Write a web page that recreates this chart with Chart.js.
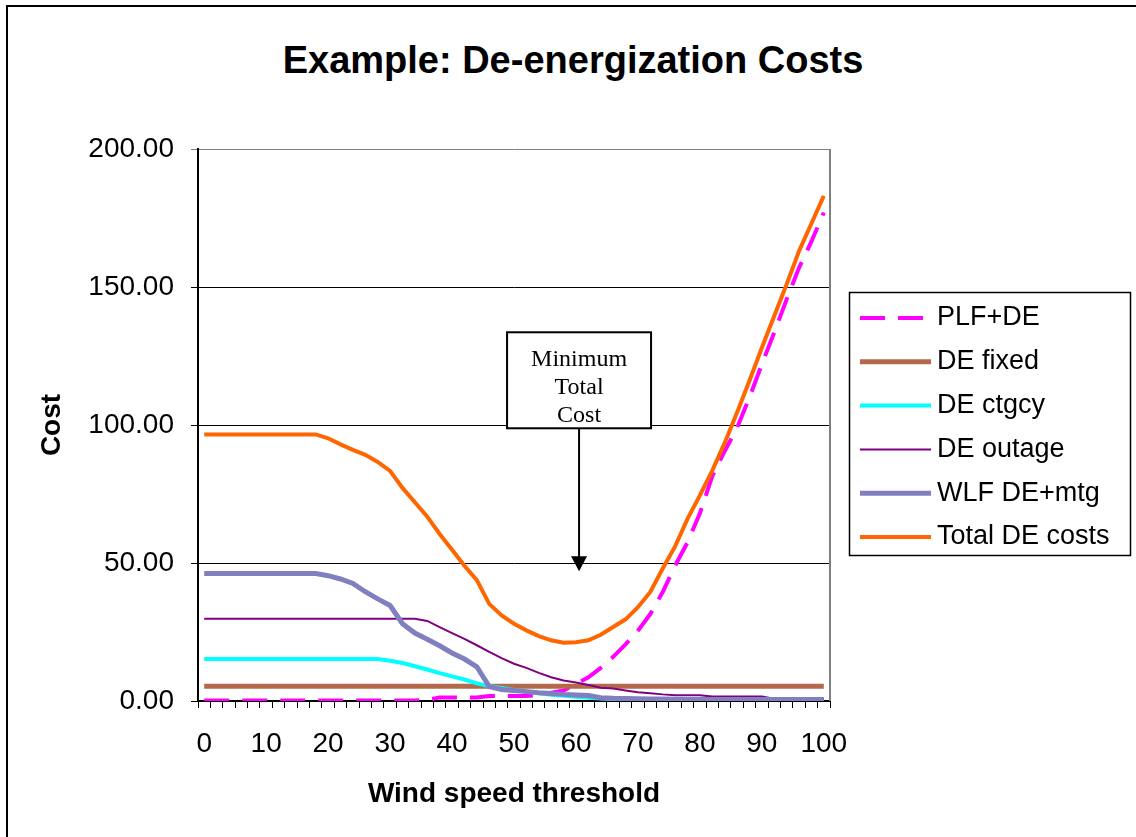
<!DOCTYPE html>
<html>
<head>
<meta charset="utf-8">
<title>Example: De-energization Costs</title>
<script src="https://cdn.jsdelivr.net/npm/chart.js@4/dist/chart.umd.min.js"></script>
<style>
  body { margin: 0; background: #fff; }
  #wrap { position: relative; width: 1136px; height: 837px; overflow: hidden; }
  #edge { position: absolute; left: 6px; top: 5px; width: 2000px; height: 2000px;
          border-left: 2px solid #000; border-top: 2px solid #000; }
  #title { position: absolute; left: 0; top: 37px; width: 1146px; text-align: center;
           font: bold 38px/46px "Liberation Sans", Arial, sans-serif; color: #000; }
  canvas { position: absolute; left: 0; top: 0; }
</style>
</head>
<body>
<div id="wrap">
  <div id="edge"></div>
  <div id="title">Example: De-energization Costs</div>
  <canvas id="costChart" width="1136" height="837"></canvas>
</div>
<script>
// Wind speed threshold categories
const windSpeeds = [0, 2, 4, 6, 8, 10, 12, 14, 16, 18, 20, 22, 24, 26, 28, 30, 32, 34, 36, 38,
  40, 42, 44, 46, 48, 50, 52, 54, 56, 58, 60, 62, 64, 66, 68, 70, 72, 74, 76, 78,
  80, 82, 84, 86, 88, 90, 92, 94, 96, 98, 100];

// Cost series
const plfDe = [0.2, 0.2, 0.2, 0.2, 0.2, 0.2, 0.2, 0.2, 0.2, 0.2, 0.2, 0.2, 0.2, 0.2, 0.2, 0.2, 0.2, 0.2, 0.4, 1.3,
  1.3, 1.3, 1.3, 1.8, 1.8, 1.8, 1.8, 2.2, 3.0, 3.8, 6.2, 8.6, 12.0, 16.0, 20.5, 25.5, 31.5, 39.5, 49.0, 57.5,
  68.0, 81.5, 90.5, 99.0, 110.0, 122.0, 133.5, 145.5, 157.0, 166.5, 177.0];

const deFixed = [5.3, 5.3, 5.3, 5.3, 5.3, 5.3, 5.3, 5.3, 5.3, 5.3, 5.3, 5.3, 5.3, 5.3, 5.3, 5.3, 5.3, 5.3, 5.3, 5.3,
  5.3, 5.3, 5.3, 5.3, 5.3, 5.3, 5.3, 5.3, 5.3, 5.3, 5.3, 5.3, 5.3, 5.3, 5.3, 5.3, 5.3, 5.3, 5.3, 5.3,
  5.3, 5.3, 5.3, 5.3, 5.3, 5.3, 5.3, 5.3, 5.3, 5.3, 5.3];

const deCtgcy = [15.2, 15.2, 15.2, 15.2, 15.2, 15.2, 15.2, 15.2, 15.2, 15.2, 15.2, 15.2, 15.2, 15.2, 15.2, 14.6, 13.8, 12.6, 11.4, 10.1,
  8.9, 7.8, 6.4, 5.4, 4.7, 4.0, 3.4, 2.8, 2.3, 1.9, 1.5, 1.2, 0.9, 0.7, 0.5, 0.3, 0.2, 0.1, 0.1, 0.1,
  0.1, 0.1, 0.1, 0.1, 0.1, 0.1, 0.1, 0.1, 0.1, 0.1, 0.1];

const deOutage = [29.8, 29.8, 29.8, 29.8, 29.8, 29.8, 29.8, 29.8, 29.8, 29.8, 29.8, 29.8, 29.8, 29.8, 29.8, 29.8, 29.8, 29.8, 29.0, 26.8,
  24.6, 22.5, 20.2, 17.8, 15.5, 13.5, 12.0, 10.2, 8.6, 7.4, 6.7, 5.8, 4.8, 4.5, 3.8, 3.2, 2.8, 2.4, 2.1, 2.1,
  2.1, 1.6, 1.6, 1.6, 1.6, 1.6, 0.8, 0.8, 0.8, 0.8, 0.8];

const wlfDeMtg = [46.2, 46.2, 46.2, 46.2, 46.2, 46.2, 46.2, 46.2, 46.2, 46.2, 45.4, 44.2, 42.6, 39.6, 37.0, 34.6, 28.0, 24.6, 22.4, 20.0,
  17.4, 15.2, 12.4, 5.2, 4.2, 3.8, 3.4, 3.0, 2.7, 2.4, 2.2, 2.0, 1.2, 1.0, 0.9, 0.8, 0.7, 0.7, 0.6, 0.5,
  0.5, 0.5, 0.5, 0.5, 0.5, 0.5, 0.5, 0.5, 0.5, 0.5, 0.5];

const totalDe = [96.6, 96.6, 96.6, 96.6, 96.6, 96.6, 96.6, 96.6, 96.6, 96.6, 95.2, 93.0, 91.0, 89.2, 86.6, 83.4, 77.2, 72.0, 66.8, 60.5,
  54.8, 49.0, 43.8, 35.2, 31.0, 28.0, 25.6, 23.5, 22.0, 21.1, 21.3, 22.0, 24.0, 26.8, 29.6, 34.0, 39.5, 48.0, 56.0, 66.0,
  74.5, 83.5, 93.5, 104.5, 116.0, 128.0, 139.5, 151.0, 163.0, 173.0, 183.0];

// Axis settings
const yMax = 200;
const yStep = 50;
const xLabelEvery = 10;

// Callout: arrow tip at category index / cost value
const noteLines = ["Minimum", "Total", "Cost"];
const noteIndex = 30.25;
const noteValue = 47;

const FONT = "'Liberation Sans', Arial, sans-serif";
Chart.defaults.font.family = FONT;
Chart.defaults.color = '#000';

// Draws the plot frame, the callout and the boxed legend
const extras = {
    id: 'extras',
    afterDraw(chart) {
        const { ctx, chartArea: a, scales: { x, y } } = chart;
        ctx.save();

        // right edge of plot area
        ctx.strokeStyle = '#808080';
        ctx.lineWidth = 2;
        ctx.beginPath();
        ctx.moveTo(a.right, a.top);
        ctx.lineTo(a.right, a.bottom);
        ctx.stroke();

        // callout box + arrow
        const tipX = x.getPixelForValue(noteIndex);
        const tipY = y.getPixelForValue(noteValue);
        const bl = tipX - 72, bt = tipY - 239, bw = 144, bh = 96;
        ctx.fillStyle = '#fff';
        ctx.fillRect(bl, bt, bw, bh);
        ctx.save();
        ctx.beginPath();
        ctx.rect(bl, bt, bw, bh);
        ctx.clip();
        ctx.fillStyle = '#000';
        ctx.font = "24px 'Liberation Serif', 'Times New Roman', serif";
        ctx.textAlign = 'center';
        ctx.textBaseline = 'alphabetic';
        noteLines.forEach((t, i) => ctx.fillText(t, tipX, bt + 34 + i * 28));
        ctx.restore();
        ctx.strokeStyle = '#000';
        ctx.lineWidth = 2;
        ctx.strokeRect(bl, bt, bw, bh);
        ctx.beginPath();
        ctx.moveTo(tipX, bt + bh);
        ctx.lineTo(tipX, tipY - 12);
        ctx.stroke();
        ctx.fillStyle = '#000';
        ctx.beginPath();
        ctx.moveTo(tipX - 8, tipY - 15);
        ctx.lineTo(tipX + 8, tipY - 15);
        ctx.lineTo(tipX, tipY);
        ctx.closePath();
        ctx.fill();

        // legend
        const lx = a.right + 20, ly = 292.5;
        ctx.lineWidth = 1.5;
        ctx.strokeStyle = '#000';
        ctx.strokeRect(lx - 0.5, ly, 281, 263);
        ctx.font = '27px ' + FONT;
        ctx.textAlign = 'left';
        ctx.textBaseline = 'middle';
        chart.data.datasets.forEach((ds, i) => {
            const ry = ly + 25.5 + i * 43.8;
            ctx.strokeStyle = ds.borderColor;
            ctx.lineWidth = ds.borderWidth;
            ctx.setLineDash(ds.borderDash || []);
            ctx.beginPath();
            ctx.moveTo(lx + 10, ry);
            ctx.lineTo(lx + 81, ry);
            ctx.stroke();
            ctx.setLineDash([]);
            ctx.fillStyle = '#000';
            ctx.fillText(ds.label, lx + 87, ry);
        });
        ctx.restore();
    }
};

function initializeChart() {
    const ctx = document.getElementById('costChart').getContext('2d');

    new Chart(ctx, {
        type: 'line',
        data: {
            labels: windSpeeds,
            datasets: [
                { label: 'PLF+DE', data: plfDe, borderColor: '#ff00ff', borderWidth: 4, borderDash: [25, 13], order: 6 },
                { label: 'DE fixed', data: deFixed, borderColor: '#b5694b', borderWidth: 5, order: 5 },
                { label: 'DE ctgcy', data: deCtgcy, borderColor: '#00ffff', borderWidth: 4, order: 4 },
                { label: 'DE outage', data: deOutage, borderColor: '#800080', borderWidth: 2, order: 3 },
                { label: 'WLF DE+mtg', data: wlfDeMtg, borderColor: '#8080c0', borderWidth: 5, order: 2 },
                { label: 'Total DE costs', data: totalDe, borderColor: '#ff6600', borderWidth: 4, order: 1 }
            ]
        },
        options: {
            responsive: false,
            animation: false,
            devicePixelRatio: 1,
            layout: { padding: { top: 149, right: 306, bottom: 0, left: 0 } },
            elements: {
                point: { radius: 0, hoverRadius: 0 },
                line: { tension: 0, fill: false, borderCapStyle: 'butt' }
            },
            plugins: {
                legend: { display: false },
                title: { display: false },
                tooltip: { enabled: false }
            },
            scales: {
                x: {
                    type: 'category',
                    offset: true,
                    afterFit(s) { s.height = 136; },
                    grid: { drawOnChartArea: false, drawTicks: true, tickLength: 7, offset: true, color: '#000', lineWidth: 1 },
                    border: { display: true, color: '#000', width: 2 },
                    ticks: {
                        autoSkip: false,
                        maxRotation: 0,
                        minRotation: 0,
                        padding: 19,
                        font: { size: 28 },
                        callback(val) {
                            const w = this.getLabelForValue(val);
                            return w % xLabelEvery === 0 ? String(w) : '';
                        }
                    },
                    title: {
                        display: true,
                        text: 'Wind speed threshold',
                        font: { size: 28, weight: 'bold', lineHeight: 1.2 },
                        padding: { top: 0, bottom: 26 }
                    }
                },
                y: {
                    min: 0,
                    max: yMax,
                    afterFit(s) { s.width = 198; },
                    grid: {
                        drawTicks: true,
                        tickLength: 7,
                        lineWidth: 1,
                        color: c => (c.tick && c.tick.value === yMax ? '#808080' : '#000')
                    },
                    border: { display: true, color: '#000', width: 2 },
                    ticks: {
                        stepSize: yStep,
                        padding: 17,
                        font: { size: 28 },
                        callback: v => v.toFixed(2)
                    },
                    title: {
                        display: true,
                        text: 'Cost',
                        font: { size: 28, weight: 'bold', lineHeight: 1.2 },
                        padding: { top: 35, bottom: 0 }
                    }
                }
            }
        },
        plugins: [extras]
    });
}

window.onload = function() {
    initializeChart();
};
</script>
</body>
</html>
